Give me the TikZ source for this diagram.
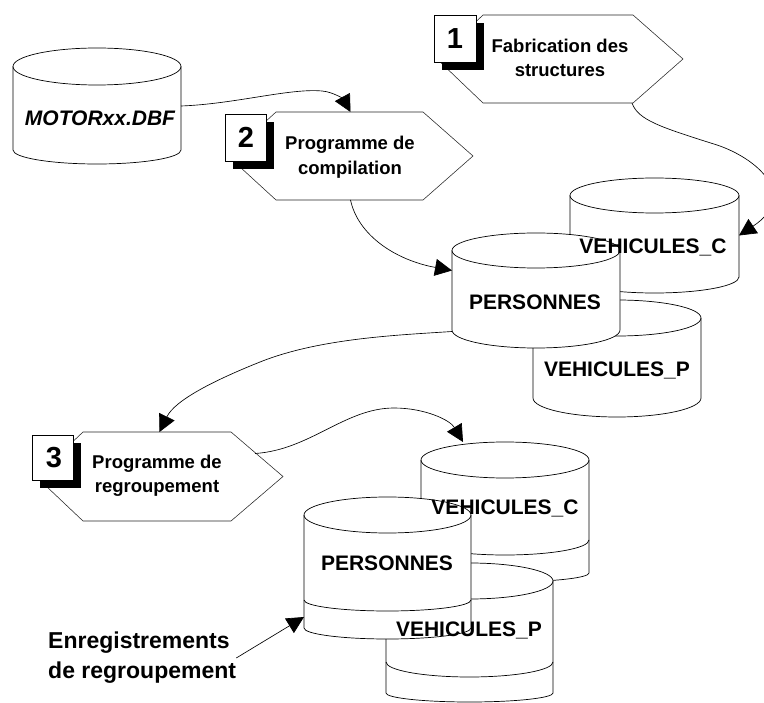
\documentclass[tikz,border=0pt]{standalone}
\usepackage{fontspec}
\setmainfont{Liberation Sans}
\usetikzlibrary{arrows.meta,calc}
\tikzset{
  outline/.style={draw=black,line width=0.7pt,fill=white},
  holder/.style={inner sep=0pt,outer sep=0pt,draw=none},
  hexline/.style={draw=black!85,line width=0.55pt,fill=white},
  numbox/.style={draw=black,line width=0.7pt,fill=white},
  numtext/.style={font=\bfseries\fontsize{29}{30}\selectfont,inner sep=0pt},
  steptext/.style={font=\bfseries\fontsize{18.5}{24.5}\selectfont,align=center,inner sep=0pt},
  dbtext/.style={font=\bfseries\fontsize{21}{24}\selectfont,inner sep=0pt},
  notetext/.style={font=\bfseries\fontsize{23}{30}\selectfont,align=left,inner sep=0pt},
  conn/.style={draw=black,line width=0.65pt,-{Triangle[length=17pt,width=17pt]}},
}
% name, left, top, right, side bottom, lowest, ellipse half height
\newcommand{\cylbody}[7]{%
  \pgfmathsetmacro{\cmx}{(#2+#4)/2}
  \pgfmathsetmacro{\cyy}{#3+#7}
  \pgfmathsetmacro{\kx}{0.276*(#4-#2)}
  \pgfmathsetmacro{\kt}{0.55*#7}
  \pgfmathsetmacro{\kb}{0.55*(#6-#5)}
  \path[outline] (#2,\cyy) -- (#2,#5)
    .. controls (#2,#5+\kb) and (\cmx-\kx,#6) .. (\cmx,#6)
    .. controls (\cmx+\kx,#6) and (#4,#5+\kb) .. (#4,#5)
    -- (#4,\cyy)
    .. controls (#4,\cyy-\kt) and (\cmx+\kx,#3) .. (\cmx,#3)
    .. controls (\cmx-\kx,#3) and (#2,\cyy-\kt) .. (#2,\cyy) -- cycle;
  \draw[outline,fill=none] (#2,\cyy)
    .. controls (#2,\cyy+\kt) and (\cmx-\kx,\cyy+#7) .. (\cmx,\cyy+#7)
    .. controls (\cmx+\kx,\cyy+#7) and (#4,\cyy+\kt) .. (#4,\cyy);
  \node[holder,minimum width=#4pt-#2pt,minimum height=#6pt-#3pt] (#1) at (\cmx,{(#3+#6)/2}) {};
}
% left, right, side y, lowest y
\newcommand{\cylband}[4]{%
  \pgfmathsetmacro{\cmx}{(#1+#2)/2}
  \pgfmathsetmacro{\kx}{0.276*(#2-#1)}
  \pgfmathsetmacro{\kb}{0.55*(#4-#3)}
  \draw[outline,fill=none] (#1,#3)
    .. controls (#1,#3+\kb) and (\cmx-\kx,#4) .. (\cmx,#4)
    .. controls (\cmx+\kx,#4) and (#2,#3+\kb) .. (#2,#3);
}
% name, left tip, right tip, top, bottom, left inset, right inset
\newcommand{\hexa}[7]{%
  \pgfmathsetmacro{\hmy}{(#4+#5)/2}
  \path[hexline] (#2,\hmy) -- (#2+#6,#4) -- (#3-#7,#4) -- (#3,\hmy) -- (#3-#7,#5) -- (#2+#6,#5) -- cycle;
  \node[holder,minimum width=#3pt-#2pt,minimum height=#5pt-#4pt] (#1) at ({(#2+#3)/2},\hmy) {};
}
% left, top, right, bottom
\newcommand{\numsq}[4]{%
  \fill[black] (#1+8,#2+8) rectangle (#3+8,#4+8);
  \path[numbox] (#1,#2) rectangle (#3,#4);
}
\begin{document}
\begin{tikzpicture}[x=1pt,y=-1pt]
\useasboundingbox[fill=white] (0,0) rectangle (764,703);

% first source
\cylbody{mot}{13}{48}{181}{150}{164}{18.5}

% step hexagons
\hexa{hone}{437}{683}{15}{103}{46}{50}
\hexa{htwo}{228}{473}{112}{200}{48}{50}
\hexa{hthree}{36}{283}{432}{521}{47}{52}
\numsq{434}{15}{476}{62}
\numsq{225}{114}{266}{161}
\numsq{32}{435}{73}{480}

% first group
\cylbody{vca}{570}{178}{739}{277}{293}{17.5}
\cylbody{vpa}{533}{300}{701}{398}{417}{18}
\cylbody{pa}{452}{233}{620}{330}{348}{17.5}

% second group
\cylbody{vcb}{421}{442}{589}{573}{582}{18}
\cylband{421}{589}{540}{555}
\cylbody{vpb}{386}{563}{553}{693}{702}{18}
\cylband{386}{553}{662}{677}
\cylbody{pb}{304}{497}{471}{628}{639}{18}
\cylband{304}{471}{600}{611}

% texts
\node[font=\bfseries\itshape\fontsize{21}{24}\selectfont,inner sep=0pt] (tmot) at (100,118) {MOTORxx.DBF};
\node[numtext] (none) at (455,39) {1};
\node[numtext] (ntwo) at (246,137) {2};
\node[numtext] (nthree) at (54,458) {3};
\node[steptext] (tone) at (560,58) {Fabrication des\\structures};
\node[steptext] (ttwo) at (350,157) {Programme de\\compilation};
\node[steptext] (tthree) at (157,476) {Programme de\\regroupement};
\node[dbtext] (tvca) at (653,247) {VEHICULES\_C};
\node[dbtext] (tpa) at (535,302) {PERSONNES};
\node[dbtext] (tvpa) at (617,370) {VEHICULES\_P};
\node[dbtext] (tvcb) at (505,508) {VEHICULES\_C};
\node[dbtext] (tpb) at (387,563) {PERSONNES};
\node[dbtext] (tvpb) at (469,630) {VEHICULES\_P};
\node[notetext,anchor=west] (enr) at (48,658) {Enregistrements\\de regroupement};

% connectors
\draw[conn] (mot.east) .. controls (235,104) and (290,88) .. (322,91)
  .. controls (334,92) and (344,100) .. (htwo.north);
\draw[conn] ([xshift=72pt]hone.south) .. controls (638,120) and (660,127) .. (717,145)
  .. controls (756,158) and (800,195) .. (vca.east);
\draw[conn] (htwo.south) .. controls (358,235) and (395,260) .. ([yshift=20pt]pa.west);
\draw[conn] ([yshift=-41pt]pa.west) .. controls (400,335) and (320,338) .. (260,362)
  .. controls (215,380) and (175,400) .. (hthree.north);
\draw[conn] ([xshift=-28pt,yshift=23pt]hthree.east) .. controls (310,450) and (345,408) .. (394,408)
  .. controls (425,408) and (450,420) .. ([xshift=-42pt]vcb.north);
\draw[conn] (enr.east) -- ([yshift=-49pt]pb.west);
\end{tikzpicture}
\end{document}
